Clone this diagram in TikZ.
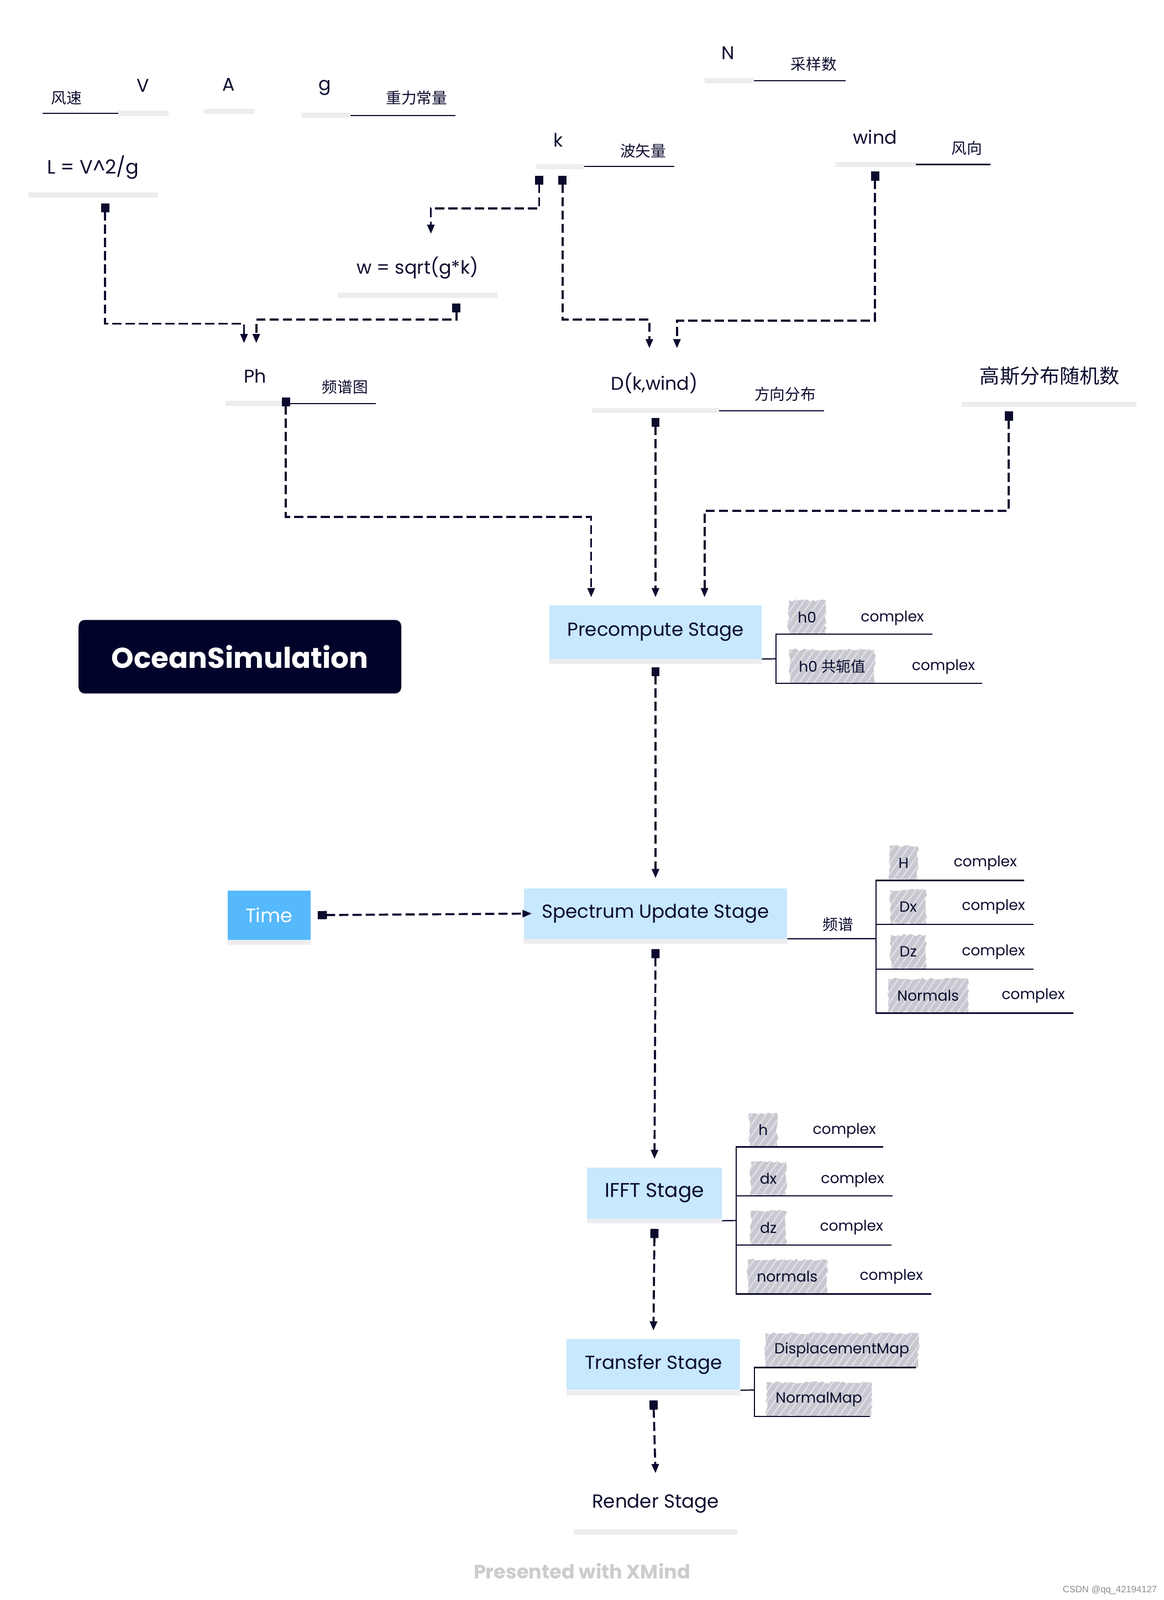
\documentclass[tikz,border=0pt]{standalone}
\usepackage{fontspec}
\setmainfont{Poppins}
\newfontfamily\cjk{Noto Sans CJK SC}
\newfontfamily\tagfont{Liberation Sans}
\usepackage{tikz}
\usetikzlibrary{arrows.meta,patterns.meta,decorations.pathmorphing}
\definecolor{InkNavy}{HTML}{0B0B2E}
\definecolor{NightBox}{HTML}{02032A}
\definecolor{StageBlue}{HTML}{C7E8FD}
\definecolor{TimeBlue}{HTML}{55B9FC}
\definecolor{BarGray}{HTML}{EDECEF}
\definecolor{HatchGray}{HTML}{C8C8D0}
\definecolor{HatchLight}{HTML}{E0E0E6}
\tikzset{
  topic/.style={text=InkNavy, inner sep=0pt, font=\fontsize{18}{20}\selectfont},
  note/.style={text=InkNavy, inner sep=0pt, font=\fontsize{15}{17}\selectfont\cjk},
  ubar/.style={fill=BarGray, inner sep=0pt, minimum height=5pt},
  leaf/.style={InkNavy, line width=1.2pt},
  stage/.style={fill=StageBlue, text=InkNavy, inner sep=0pt, font=\fontsize{18.5}{21}\selectfont},
  flow/.style={InkNavy, line width=2pt, dash pattern=on 9pt off 4pt,
    {Square[length=9pt,width=8pt]}-{Triangle[length=9pt,width=7pt]}},
  hatch/.style={fill=HatchGray, text=InkNavy, inner xsep=9pt, inner ysep=0pt,
    minimum height=33pt, font=\fontsize{14.4}{16}\selectfont,
    decorate, decoration={random steps, segment length=3pt, amplitude=1.2pt},
    postaction={pattern={Lines[angle=55,distance=6pt,line width=1.4pt]}, pattern color=HatchLight}},
  cplx/.style={text=InkNavy, inner sep=0pt, font=\fontsize{14.4}{16}\selectfont},
}
\begin{document}
\begin{tikzpicture}[x=1pt,y=-1pt]
\useasboundingbox (0,0) rectangle (1140,1566.6);
% inputs
\node[topic] (N) at (713,52) {N};
\node[ubar, minimum width=48pt] (Nbar) at (714,79) {};
\draw[leaf] (Nbar.east) -- ++(90,0);
\node[note] (Nnote) at (797,63) {采样数};

\node[topic] (V) at (140,84) {V};
\node[ubar, minimum width=49pt] (Vbar) at (140.5,111) {};
\draw[leaf] (Vbar.west) -- ++(-74,0);
\node[note] (Vnote) at (65,96) {风速};

\node[topic] (A) at (224,83) {A};
\node[ubar, minimum width=49pt] (Abar) at (224.5,109) {};

\node[topic] (g) at (318,86) {g};
\node[ubar, minimum width=48pt] (gbar) at (319,113) {};
\draw[leaf] (gbar.east) -- ++(103,0);
\node[note] (gnote) at (408,96) {重力常量};

\node[topic] (k) at (547,137) {k};
\node[ubar, minimum width=47pt] (kbar) at (548.5,163) {};
\draw[leaf] (kbar.east) -- ++(88,0);
\node[note] (knote) at (630,148) {波矢量};

\node[topic] (wind) at (857,134) {wind};
\node[ubar, minimum width=79pt] (windbar) at (857.5,161) {};
\draw[leaf] (windbar.east) -- ++(73,0);
\node[note] (windnote) at (947,145) {风向};

\node[topic, font=\fontsize{19}{21}\selectfont] (L) at (91,164) {L = V\char`\^2/g};
\node[ubar, minimum width=127pt] (Lbar) at (91.5,191) {};

\node[topic] (w) at (409,262) {w = sqrt(g*k)};
\node[ubar, minimum width=156pt] (wbar) at (409,289) {};

\node[topic] (Ph) at (250,368) {Ph};
\node[ubar, minimum width=59pt] (Phbar) at (250.5,395) {};
\draw[leaf] (Phbar.east) -- ++(88,0);
\node[note] (Phnote) at (338,379) {频谱图};

\node[topic] (D) at (641,375) {D(k,wind)};
\node[ubar, minimum width=124pt] (Dbar) at (642,402) {};
\draw[leaf] (Dbar.east) -- ++(103,0);
\node[note] (Dnote) at (769,386) {方向分布};

\node[topic, font=\fontsize{19.5}{22}\selectfont\cjk] (gauss) at (1028,368) {高斯分布随机数};
\node[ubar, minimum width=171pt] (gaussbar) at (1027.5,396) {};

% stages
\node[fill=NightBox, rounded corners=6pt, text=white, minimum width=316pt, minimum height=72pt,
  font=\bfseries\fontsize{28}{32}\selectfont] (ocean) at (235,643) {OceanSimulation};
\node[stage, minimum width=208pt, minimum height=52pt] (pre) at (642,619) {Precompute Stage};
\node[stage, minimum width=258pt, minimum height=49pt] (spec) at (642,894.5) {Spectrum Update Stage};
\node[stage, fill=TimeBlue, text=white, minimum width=81pt, minimum height=48pt,
  font=\fontsize{19}{22}\selectfont] (time) at (263.5,896) {Time};
\node[stage, minimum width=132pt, minimum height=50pt, font=\fontsize{19.5}{22}\selectfont] (ifft) at (641,1168) {IFFT Stage};
\node[stage, minimum width=170pt, minimum height=50pt] (transfer) at (640,1336) {Transfer Stage};
\node[topic, font=\fontsize{18.5}{21}\selectfont] (render) at (642,1472) {Render Stage};
\node[ubar, minimum width=160pt] (renderbar) at (642,1500) {};
\foreach \n in {pre,spec,time,ifft,transfer}
  \fill[BarGray] (\n.south west) rectangle ([yshift=-5pt]\n.south east);

% ports
\coordinate (L-out) at (103,199);
\coordinate (w-out) at (447,297);
\coordinate (k-out1) at (528,172);
\coordinate (k-out2) at (551,172);
\coordinate (wind-out) at (857,168);
\coordinate (Ph-out) at (280,389);
\coordinate (D-out) at (642,409);
\coordinate (gauss-out) at (988,403);
\coordinate (Ph-in1) at (239,336);
\coordinate (Ph-in2) at (251,336);
\coordinate (w-in) at (422,229);
\coordinate (D-in1) at (636,341);
\coordinate (D-in2) at (663,341);
\coordinate (pre-in1) at ([xshift=-63pt,yshift=8pt]pre.north);
\coordinate (pre-in2) at ([yshift=8pt]pre.north);
\coordinate (pre-in3) at ([xshift=48pt,yshift=8pt]pre.north);
\coordinate (pre-out) at ([yshift=-8pt]pre.south);
\coordinate (spec-in) at ([yshift=10pt]spec.north);
\coordinate (spec-in2) at ([xshift=8pt]spec.west);
\coordinate (time-out) at ([xshift=7pt]time.east);
\coordinate (spec-out) at ([yshift=-10pt]spec.south);
\coordinate (ifft-in) at ([yshift=8pt]ifft.north);
\coordinate (ifft-out) at ([yshift=-10pt]ifft.south);
\coordinate (transfer-in) at ([yshift=8pt]transfer.north);
\coordinate (transfer-out) at ([yshift=-10pt]transfer.south);
\coordinate (render-in) at ([yshift=20pt]render.north);

% flows
\draw[flow] (L-out) -- ++(0,118) -| (Ph-in1);
\draw[flow] (w-out) -- ++(0,16) -| (Ph-in2);
\draw[flow] (k-out1) -- ++(0,32) -| (w-in);
\draw[flow] (k-out2) -- ++(0,141) -| (D-in1);
\draw[flow] (wind-out) -- ++(0,146) -| (D-in2);
\draw[flow] (Ph-out) -- ++(0,117) -| (pre-in1);
\draw[flow] (D-out) -- (pre-in2);
\draw[flow] (gauss-out) -- ++(0,97) -| (pre-in3);
\draw[flow] (pre-out) -- (spec-in);
\draw[flow] (time-out) -- (spec-in2);
\draw[flow] (spec-out) -- (ifft-in);
\draw[flow] (ifft-out) -- (transfer-in);
\draw[flow] (transfer-out) -- (render-in);

% precompute outputs
\node[hatch] (h0) at (790.5,604.5) {h0};
\node[cplx] (h0type) at (874,605) {complex};
\node[hatch] (h0conj) at (815,652.5) {h0 {\cjk 共轭值}};
\node[cplx] (h0conjtype) at (924,653) {complex};
\draw[leaf] (pre.south east) -- (760,645);
\draw[leaf] (913,621) -- (760,621) -- (760,669) -- (962,669);

% spectrum outputs
\node[hatch] (H) at (885,845) {H};
\node[cplx] (Htype) at (965,845) {complex};
\node[hatch] (Dx) at (889.5,888) {Dx};
\node[cplx] (Dxtype) at (973,888) {complex};
\node[hatch] (Dz) at (889.5,932) {Dz};
\node[cplx] (Dztype) at (973,932) {complex};
\node[hatch] (Normals) at (909,975) {Normals};
\node[cplx] (Normalstype) at (1012,975) {complex};
\draw[leaf] (spec.south east) -- (858,919);
\node[note] (specnote) at (821,905) {频谱};
\draw[leaf] (1003,862) -- (858,862) -- (858,992) -- (1051,992);
\draw[leaf] (858,905) -- (1012,905);
\draw[leaf] (858,949) -- (1012,949);

% ifft outputs
\node[hatch] (hh) at (747.5,1106.5) {h};
\node[cplx] (hhtype) at (827,1107) {complex};
\node[hatch] (dx) at (752.5,1154) {dx};
\node[cplx] (dxtype) at (835,1155) {complex};
\node[hatch] (dz) at (752.5,1202) {dz};
\node[cplx] (dztype) at (834,1202) {complex};
\node[hatch] (normals) at (771,1250) {normals};
\node[cplx] (normalstype) at (873,1250) {complex};
\draw[leaf] ([yshift=-2pt]ifft.south east) -- (721,1195);
\draw[leaf] (865,1123) -- (721,1123) -- (721,1267) -- (912,1267);
\draw[leaf] (721,1171) -- (874,1171);
\draw[leaf] (721,1219) -- (873,1219);

% transfer outputs
\node[hatch] (dispmap) at (824.5,1322) {DisplacementMap};
\node[hatch] (normalmap) at (802,1370) {NormalMap};
\draw[leaf] (transfer.south east) -- (739,1361);
\draw[leaf] (897,1339) -- (739,1339) -- (739,1387) -- (852,1387);

\node[font=\bfseries\fontsize{19}{22}\selectfont, text=black!20] (xmind) at (570,1538) {Presented with XMind};
\node[font=\tagfont\fontsize{9}{10}\selectfont, text=black!45] (csdn) at (1087,1557) {CSDN @qq\_42194127};
\end{tikzpicture}
\end{document}
